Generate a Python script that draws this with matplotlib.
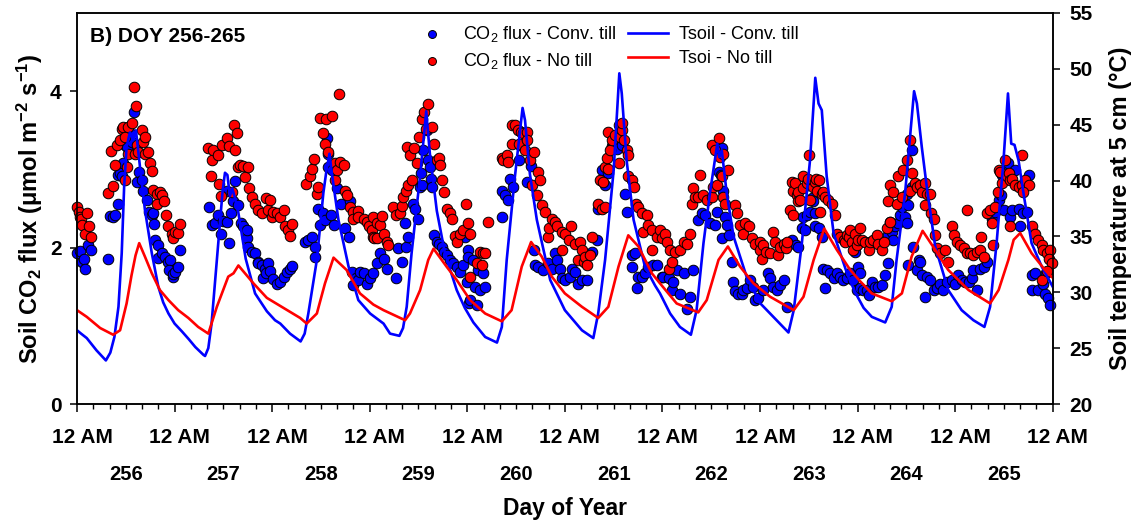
import numpy as np
import matplotlib
matplotlib.use("Agg")
import matplotlib.pyplot as plt
from matplotlib.ticker import MultipleLocator
from matplotlib.transforms import ScaledTranslation, blended_transform_factory

plt.rcParams['font.family'] = ['Liberation Sans', 'DejaVu Sans']
plt.rcParams['mathtext.fontset'] = 'custom'
plt.rcParams['mathtext.rm'] = 'Liberation Sans'
plt.rcParams['mathtext.it'] = 'Liberation Sans:italic'
plt.rcParams['mathtext.bf'] = 'Liberation Sans:bold'

# ---------------------------------------------------------------- data
days = [256, 257, 258, 259, 260, 261, 262, 263, 264, 265]
tick_labels = ['12 AM'] * 11

# soil temperature at 5 cm, (hour since start of DOY 256, degC)
tsoil_conv = [
    (0, 26.6), (1.0, 26.3), (2.4, 25.9), (4.8, 24.8), (7.1, 23.9), (8.2, 24.6), (9.2, 26.0),
    (10.2, 28.7), (11.0, 33.5), (11.6, 39.5), (12.2, 43.0), (13.0, 44.3), (13.8, 43.6),
    (14.5, 44.5), (15.5, 41.2), (16.7, 37.4), (18.4, 33.5), (20.0, 30.5), (21.2, 29.1),
    (22.5, 28.1), (24.0, 27.2), (25.8, 26.5), (27.5, 25.8), (29.1, 25.1), (31.1, 24.4),
    (31.5, 24.3), (32.3, 25.0), (33.1, 27.2),
    (34.8, 34.7), (35.8, 39.0), (36.4, 40.7), (37.0, 40.5), (37.6, 38.6), (38.2, 39.3),
    (38.8, 38.5), (39.7, 37.1), (41.5, 33.0), (43.8, 29.9), (46.7, 28.3), (48.7, 27.5),
    (50.0, 27.2), (52.4, 26.3), (55.0, 25.6), (56.0, 26.3), (56.9, 28.1), (59.0, 32.9),
    (60.6, 38.9), (61.4, 41.0), (62.1, 42.4), (62.7, 40.6), (64.3, 36.5), (66.8, 32.3),
    (69.2, 29.3), (72.1, 28.1), (75.4, 27.2), (77.0, 26.3), (79.3, 26.1), (80.2, 26.8),
    (81.1, 28.7), (82.3, 33.5), (84.4, 40.4), (85.9, 46.2), (86.8, 42.4), (88.5, 37.3),
    (90.5, 33.5), (93.4, 30.2), (95.4, 28.6), (97.5, 27.3), (100.4, 26.0), (103.3, 25.5),
    (104.5, 26.9), (105.7, 32.9), (107.7, 40.3), (109.6, 46.5), (110.2, 45.4), (111.4, 40.6),
    (113.1, 36.5), (116.4, 31.1), (120.0, 28.4), (124.2, 26.6), (127.0, 25.9), (128.2, 28.1),
    (129.9, 32.9), (132.0, 40.9), (133.4, 49.6), (134.0, 47.8), (135.2, 41.8), (136.9, 36.5),
    (139.7, 32.3), (142.2, 30.6), (143.4, 29.9), (145.9, 28.1), (148.3, 26.9), (151.0, 26.2),
    (152.4, 28.4), (154.1, 34.4), (155.7, 38.9), (157.5, 43.3), (158.0, 42.1), (158.6, 42.7),
    (159.8, 38.9), (161.5, 35.0), (164.7, 31.4), (168.1, 29.0), (171.3, 27.8), (175.0, 26.4),
    (176.3, 28.4), (178.3, 34.4), (180.3, 41.8), (181.6, 49.2), (182.4, 46.9), (183.2, 46.3),
    (184.4, 40.4), (186.1, 35.3), (189.4, 31.7), (191.4, 30.0), (193.5, 28.6), (195.5, 27.8),
    (198.8, 27.3), (200.4, 28.7), (201.6, 32.9), (203.7, 38.9), (205.9, 48.0), (206.6, 46.9),
    (207.8, 43.0), (209.0, 39.5), (211.1, 34.1), (214.3, 30.2), (217.6, 28.4), (220.5, 27.5),
    (223.2, 26.9), (224.6, 28.7), (226.2, 34.4), (227.9, 41.8), (229.0, 47.8), (229.8, 43.3),
    (230.6, 43.2), (231.6, 41.8), (232.8, 38.9), (234.8, 34.4), (237.3, 32.3), (240.0, 30.5),
]

tsoil_notill = [
    (0, 28.4), (2.4, 27.8), (5.7, 26.8), (8.9, 26.2), (10.6, 26.6), (12.2, 29.0), (13.4, 31.5),
    (14.4, 33.3), (15.3, 34.4), (16.7, 33.2), (18.4, 31.7), (20.4, 30.2), (22.5, 29.3),
    (24.9, 28.4), (27.4, 27.7), (29.8, 26.9), (32.3, 26.3), (34.4, 28.7), (37.2, 31.4),
    (38.5, 31.7), (39.7, 32.4), (43.4, 30.8), (46.7, 29.5), (50.8, 28.6), (54.9, 27.7),
    (56.5, 27.2), (59.0, 28.1), (61.0, 30.8), (63.1, 33.1), (66.3, 32.0), (69.6, 29.9),
    (72.9, 28.9), (75.4, 28.4), (80.7, 27.5), (81.9, 28.1), (84.4, 30.2), (86.4, 32.9),
    (87.7, 33.9), (90.9, 32.3), (93.4, 31.1), (96.7, 29.3), (100.4, 28.1), (104.5, 27.4),
    (106.9, 28.4), (109.4, 32.3), (111.7, 34.5), (114.3, 33.2), (116.8, 31.4), (120.0, 29.9),
    (124.2, 28.7), (128.2, 27.7), (130.7, 28.7), (133.2, 32.3), (135.6, 35.1), (138.1, 34.1),
    (141.4, 31.7), (143.4, 30.8), (147.5, 29.0), (152.8, 28.2), (154.9, 29.3), (157.8, 32.9),
    (160.1, 34.1), (163.1, 32.3), (166.4, 30.8), (170.5, 29.6), (176.3, 28.4), (178.7, 29.6),
    (181.2, 32.9), (183.8, 35.7), (186.9, 33.8), (190.2, 32.0), (192.6, 31.0), (195.5, 29.9),
    (200.4, 29.2), (202.9, 29.9), (205.3, 33.2), (208.0, 35.5), (211.1, 33.8), (214.3, 32.0),
    (219.3, 30.2), (224.6, 29.0), (226.7, 30.2), (229.1, 32.9), (230.4, 34.7), (232.0, 35.3),
    (234.8, 33.5), (238.1, 32.0), (240.0, 31.3),
]

# soil CO2 flux, (hour since start of DOY 256, umol m-2 s-1)
flux_conv = [
    (0.1, 1.93), (0.7, 1.96), (1.3, 1.81), (1.7, 1.85), (2.0, 1.72), (2.8, 2.03), (3.4, 1.97),
    (7.7, 1.85), (8.1, 2.40), (8.9, 2.39), (9.3, 2.42), (10.0, 2.56), (10.2, 2.93), (10.6, 2.95),
    (11.0, 2.91), (11.4, 3.08), (11.8, 3.31), (12.4, 3.29), (12.9, 3.44), (13.0, 3.46),
    (13.5, 3.35), (13.9, 3.74), (14.7, 2.84), (15.3, 2.97), (15.9, 2.86), (16.3, 2.73),
    (17.1, 2.61), (17.7, 2.46), (18.4, 2.42), (18.8, 2.44), (19.0, 2.30), (19.2, 2.10),
    (20.0, 2.03), (19.9, 1.87), (21.0, 1.93), (21.6, 1.88), (22.3, 1.81), (22.9, 1.84),
    (22.7, 1.71), (23.5, 1.63), (23.7, 1.66), (24.1, 1.69), (24.9, 1.75), (25.3, 1.97),
    (32.5, 2.52), (33.1, 2.29), (33.9, 2.31), (34.6, 2.42), (35.4, 2.18), (36.0, 2.34),
    (36.8, 2.33), (36.8, 2.73), (37.4, 2.06), (37.9, 2.44), (38.4, 2.59), (38.9, 2.85),
    (39.7, 2.54), (40.3, 2.31), (40.9, 2.27), (41.7, 2.12), (41.9, 2.22), (42.1, 2.01),
    (43.0, 1.95), (43.8, 1.93), (44.5, 1.82), (44.6, 1.80), (45.4, 1.78), (45.8, 1.61),
    (46.2, 1.73), (46.5, 1.67), (46.9, 1.80), (47.5, 1.70), (48.3, 1.60), (49.1, 1.54),
    (49.9, 1.56), (50.8, 1.63), (51.6, 1.69), (52.4, 1.72), (52.8, 1.76),
    (56.1, 2.07), (56.9, 2.10), (57.7, 2.14), (58.5, 2.01), (58.5, 1.88), (59.4, 2.50),
    (59.8, 2.29), (60.6, 2.44), (61.0, 2.35), (61.4, 3.40), (61.8, 3.03), (61.8, 3.20),
    (62.4, 2.42), (62.7, 2.99), (63.1, 2.29), (63.9, 2.76), (64.9, 2.56), (65.9, 2.25),
    (66.8, 2.14), (67.2, 2.59), (67.6, 1.69), (68.0, 1.52), (68.6, 1.61), (69.2, 1.58),
    (69.6, 1.69), (70.5, 1.67), (71.3, 1.54), (72.1, 1.61), (72.9, 1.67), (73.7, 1.80),
    (74.5, 1.93), (75.4, 1.86), (76.2, 1.73), (78.5, 1.61), (79.0, 1.99), (79.9, 1.82),
    (80.7, 2.31), (80.9, 2.01), (81.5, 2.14),
    (82.6, 2.56), (83.1, 2.50), (84.0, 2.36), (84.4, 2.78), (84.5, 2.95), (84.8, 2.80),
    (85.0, 3.25), (86.0, 3.50), (86.4, 3.12), (86.8, 3.03), (87.0, 2.88), (87.4, 2.78),
    (87.7, 2.16), (88.5, 2.07), (89.1, 2.05), (89.7, 2.01), (90.3, 1.95), (90.9, 1.90),
    (91.8, 1.84), (92.6, 1.80), (93.4, 1.75), (94.2, 1.69), (95.0, 1.78), (95.4, 2.14),
    (95.9, 1.56), (96.3, 1.97), (96.3, 1.88), (96.4, 1.29), (96.7, 1.33), (97.5, 1.84),
    (97.9, 1.50), (98.3, 1.27), (98.7, 1.71), (99.1, 1.46), (99.9, 1.67), (100.4, 1.50),
    (104.5, 2.39), (104.6, 2.73), (105.3, 2.67), (106.0, 2.61), (106.5, 2.88), (107.3, 2.78),
    (108.6, 3.12), (109.0, 3.31), (110.6, 2.84), (111.7, 3.04), (112.3, 1.97), (112.7, 1.78),
    (113.5, 1.75), (114.7, 1.71), (115.8, 1.80), (116.8, 1.73), (117.6, 1.93), (118.0, 1.84),
    (118.8, 1.73), (119.2, 1.61), (120.0, 1.58), (121.3, 1.63), (121.7, 1.73), (122.5, 1.69),
    (123.3, 1.54), (124.1, 1.58), (125.4, 1.58), (126.6, 1.95), (127.8, 2.10),
    (128.2, 2.50), (129.1, 2.99), (129.9, 2.80), (130.7, 2.95), (131.5, 3.30), (131.9, 3.33),
    (132.8, 3.26), (133.0, 3.45), (134.0, 3.31), (134.8, 2.69), (135.4, 2.46), (136.5, 1.90),
    (136.5, 1.75), (137.3, 1.93), (137.7, 1.48), (138.1, 1.63), (138.9, 1.63), (139.7, 1.67),
    (140.5, 1.75), (141.8, 1.78), (142.6, 1.78), (143.8, 1.63), (144.2, 1.63), (145.5, 1.61),
    (146.3, 1.46), (146.7, 1.56), (147.5, 1.71), (148.3, 1.41), (149.2, 1.67), (150.0, 1.22),
    (150.8, 1.37), (151.4, 1.71),
    (152.8, 2.35), (153.7, 2.44), (154.5, 2.42), (155.7, 2.31), (156.9, 2.29), (157.4, 2.46),
    (157.4, 3.29), (157.8, 2.97), (158.4, 2.93), (158.6, 3.27), (158.6, 2.12), (159.0, 2.73),
    (159.4, 2.39), (159.8, 2.29), (160.5, 2.16), (161.0, 1.82), (161.3, 1.56), (161.9, 1.44),
    (162.7, 1.41), (163.5, 1.41), (163.9, 1.46), (164.9, 1.48), (165.6, 1.58), (166.4, 1.50),
    (166.8, 1.33), (167.6, 1.35), (168.8, 1.46), (170.0, 1.67), (170.5, 1.61), (171.3, 1.50),
    (172.1, 1.46), (172.9, 1.52), (173.8, 1.58), (174.6, 1.24),
    (175.8, 2.10), (176.9, 2.03), (177.4, 2.01), (178.3, 2.25), (178.7, 2.39), (179.1, 2.22),
    (179.5, 2.42), (180.3, 2.46), (180.7, 2.63), (181.1, 2.59), (181.6, 2.44), (181.6, 2.27),
    (182.4, 2.25), (183.2, 2.14), (183.6, 1.73), (184.0, 1.48), (184.4, 1.71), (185.2, 1.67),
    (186.1, 1.61), (186.9, 1.67), (187.7, 1.63), (188.5, 1.58), (189.3, 1.61), (190.2, 1.67),
    (191.0, 1.58), (191.4, 1.95), (191.8, 1.46), (192.2, 1.75), (192.6, 1.67), (192.6, 1.48),
    (193.4, 1.46), (194.3, 1.46), (194.7, 1.39), (195.5, 1.56), (196.3, 1.50), (197.1, 1.50),
    (198.0, 1.52), (198.8, 1.65), (199.6, 1.80),
    (199.6, 2.16), (200.0, 2.33), (200.4, 2.20), (200.8, 2.10), (201.2, 2.27), (202.0, 2.31),
    (202.5, 2.42), (202.9, 2.52), (203.7, 2.39), (204.1, 2.31), (204.1, 2.69), (204.5, 2.54),
    (204.5, 1.78), (205.3, 2.78), (205.5, 3.25), (205.7, 2.01), (206.5, 1.71), (207.0, 1.84),
    (207.4, 1.82), (207.8, 1.65), (208.6, 1.37), (209.0, 1.63), (209.8, 1.58), (210.7, 1.46),
    (211.5, 1.48), (212.3, 1.54), (213.1, 1.46), (213.9, 1.56), (215.2, 1.58), (216.0, 1.54),
    (216.8, 1.65), (217.6, 1.58), (218.4, 1.56), (219.3, 1.56), (220.1, 1.61), (220.5, 1.71),
    (221.3, 1.46), (222.1, 1.73), (223.0, 1.75), (223.8, 1.82),
    (225.0, 2.37), (225.8, 2.46), (226.7, 2.61), (227.3, 2.67), (227.5, 2.93), (227.9, 2.48),
    (228.7, 2.99), (229.0, 3.08), (229.5, 2.39), (230.0, 2.48), (230.8, 2.99), (231.6, 2.50),
    (232.0, 2.27), (232.8, 2.44), (233.7, 2.46), (234.1, 2.93), (234.9, 1.65), (234.9, 1.46),
    (235.7, 1.67), (236.5, 1.46), (237.7, 1.54), (238.1, 1.41), (238.3, 1.67), (238.9, 1.35),
    (239.4, 1.27),
]

flux_notill = [
    (0.1, 2.52), (0.5, 2.45), (0.7, 2.39), (1.0, 2.37), (1.2, 2.29), (2.0, 2.18), (2.4, 2.44),
    (3.0, 2.27), (3.4, 2.14),
    (7.7, 2.70), (8.4, 3.24), (8.9, 2.79), (9.3, 3.05), (9.8, 3.31), (10.6, 3.37), (11.0, 3.52),
    (11.4, 3.54), (11.8, 3.42), (11.8, 2.86), (12.2, 3.03), (12.6, 3.54), (12.6, 3.20),
    (13.5, 3.59), (13.9, 4.06), (14.3, 3.20), (14.4, 3.81), (14.7, 3.31), (15.1, 3.22),
    (15.9, 3.51), (16.3, 3.35), (16.7, 3.42), (16.7, 3.20), (17.4, 3.22), (18.0, 3.08),
    (18.4, 2.98), (18.8, 2.74), (19.6, 2.69), (19.6, 2.56), (20.4, 2.71), (21.0, 2.67),
    (21.5, 2.60), (21.9, 2.42), (22.5, 2.27), (23.3, 2.18), (23.5, 2.12), (24.1, 2.20),
    (24.9, 2.19), (25.3, 2.30),
    (32.3, 3.28), (33.0, 2.91), (33.3, 3.12), (33.5, 3.25), (34.6, 3.19), (34.9, 2.81),
    (35.4, 2.66), (35.6, 3.31), (36.8, 3.40), (37.4, 3.30), (38.1, 2.71), (38.5, 3.57),
    (38.9, 3.25), (39.4, 3.47), (39.7, 3.03), (40.1, 3.05), (40.9, 3.04), (41.3, 2.90),
    (42.0, 3.03), (42.3, 2.76), (43.0, 2.65), (43.8, 2.56), (44.6, 2.48), (45.4, 2.44),
    (46.4, 2.64), (47.1, 2.48), (47.9, 2.39),
    (47.5, 2.61), (48.3, 2.46), (49.1, 2.44), (49.9, 2.39), (50.8, 2.48), (51.2, 2.27),
    (52.0, 2.22), (52.4, 2.15), (52.8, 2.30), (56.3, 2.81), (57.2, 2.91), (57.7, 3.01),
    (58.3, 3.13), (59.0, 2.69), (59.4, 2.78), (59.8, 3.66), (60.4, 3.47), (61.0, 3.33),
    (61.3, 3.65), (61.8, 3.22), (62.7, 3.68), (63.5, 3.08), (63.5, 2.86), (63.9, 2.99),
    (64.4, 3.97), (64.7, 3.10), (65.6, 3.05), (65.9, 2.73), (66.5, 2.67), (67.2, 2.52),
    (68.0, 2.46), (68.0, 2.37), (69.0, 2.47), (69.2, 2.39), (70.5, 2.37), (71.3, 2.33),
    (71.9, 2.27), (72.5, 2.22), (72.7, 2.14), (72.9, 2.39), (73.1, 2.12), (73.7, 2.31),
    (73.9, 2.12), (74.5, 2.29), (75.0, 2.40), (75.4, 2.18), (76.2, 2.07), (76.6, 2.03),
    (77.8, 2.52), (78.5, 2.42), (79.5, 2.44), (79.9, 2.53), (80.3, 2.65), (80.9, 2.73),
    (81.1, 3.29), (81.5, 2.80), (81.8, 3.18), (82.3, 2.86), (82.9, 3.27), (83.6, 3.08),
    (84.2, 3.42), (84.8, 3.65), (85.4, 3.74), (85.9, 3.52), (86.4, 3.84), (87.3, 3.54),
    (87.7, 3.33), (88.5, 3.12), (89.1, 3.14), (89.3, 3.05), (89.9, 2.86), (90.3, 2.71),
    (90.9, 2.49), (91.8, 2.44), (92.2, 2.36), (93.0, 2.15), (93.4, 2.07), (94.2, 2.18),
    (95.0, 2.23), (95.7, 2.56),
    (96.3, 2.31), (96.7, 2.18), (96.7, 1.63), (98.3, 1.80), (99.1, 1.95), (99.6, 1.78),
    (99.9, 1.93), (100.4, 1.93), (101.0, 2.33), (104.5, 3.14), (104.9, 3.12), (105.7, 3.18),
    (106.1, 3.10), (106.9, 3.57), (106.9, 3.33), (107.7, 3.57), (108.4, 3.50), (108.6, 3.33),
    (109.2, 3.48), (109.8, 3.46), (110.2, 3.25), (110.6, 3.48), (110.6, 3.37), (111.4, 3.12),
    (111.9, 2.80), (112.4, 3.22), (113.1, 2.67), (113.3, 2.97), (113.9, 2.86), (114.3, 2.54),
    (115.1, 2.46), (115.8, 2.14), (116.0, 2.25), (116.8, 2.37), (117.6, 2.33), (118.0, 2.27),
    (119.2, 2.20), (119.2, 1.97), (120.0, 2.18), (120.9, 2.10), (121.5, 2.27), (122.5, 2.05),
    (123.3, 1.84), (123.7, 2.07), (124.1, 1.97), (124.6, 1.82), (125.0, 1.88), (125.4, 1.78),
    (126.2, 1.90), (126.6, 2.14),
    (128.2, 2.56), (128.7, 2.86), (129.1, 2.50), (129.5, 2.84), (129.9, 2.52), (129.9, 3.03),
    (130.3, 3.15), (130.7, 3.01), (130.7, 3.48), (131.1, 3.25), (131.5, 3.37), (132.4, 3.44),
    (133.3, 3.57), (133.3, 3.08), (133.6, 3.42), (134.0, 3.50), (134.0, 3.59), (134.6, 3.37),
    (135.2, 3.25), (135.5, 3.18), (135.6, 2.91), (136.5, 2.86), (137.1, 2.78), (137.4, 2.56),
    (138.1, 2.52), (138.9, 2.44), (139.3, 2.20), (140.1, 2.42), (140.5, 2.29), (141.4, 1.97),
    (141.5, 2.22), (142.6, 2.14), (143.4, 2.22), (143.8, 2.12), (144.6, 2.18), (145.1, 2.07),
    (145.5, 1.73), (145.9, 1.97), (146.3, 1.82), (147.1, 1.95), (148.3, 1.97), (149.2, 2.07),
    (150.0, 2.05), (150.8, 2.18),
    (151.2, 2.56), (151.6, 2.76), (152.0, 2.65), (152.8, 2.65), (153.3, 2.93), (154.1, 2.67),
    (154.9, 2.61), (156.1, 2.65), (156.1, 3.31), (156.5, 2.78), (156.9, 3.25), (157.4, 2.80),
    (157.8, 3.40), (158.2, 3.16), (158.6, 2.91), (159.0, 2.65), (159.0, 3.20), (159.4, 2.56),
    (160.2, 2.99), (161.9, 2.54), (162.4, 2.44), (163.1, 2.29), (163.9, 2.18), (164.3, 2.31),
    (165.2, 2.27), (166.0, 2.12), (166.8, 2.05), (168.0, 2.07), (168.0, 1.97), (168.4, 1.86),
    (168.8, 2.03), (169.6, 1.95), (170.5, 1.93), (171.3, 2.20), (171.7, 2.07), (172.5, 1.90),
    (172.9, 2.01), (173.8, 2.05), (174.4, 1.99), (174.6, 2.07),
    (175.4, 2.48), (175.8, 2.84), (176.2, 2.42), (176.2, 2.73), (176.5, 2.82), (177.0, 2.67),
    (177.4, 2.71), (177.4, 2.59), (177.8, 2.61), (178.7, 2.91), (178.7, 2.76), (179.5, 2.82),
    (179.9, 2.88), (180.0, 3.18), (180.3, 2.61), (181.1, 2.78), (181.6, 2.84), (181.9, 2.88),
    (182.4, 2.86), (182.0, 2.73), (182.8, 2.46), (183.2, 2.69), (183.6, 2.71), (184.0, 2.65),
    (184.8, 2.61), (185.7, 2.56), (186.5, 2.42), (186.9, 2.18), (187.7, 2.14), (188.6, 2.10),
    (189.0, 2.07), (189.4, 2.16), (189.8, 2.14), (190.2, 2.22), (190.6, 2.07), (191.0, 1.97),
    (191.4, 2.18), (191.8, 2.03), (192.6, 2.25),
    (192.2, 2.10), (193.0, 2.10), (193.8, 2.07), (194.7, 1.97), (195.1, 2.07), (195.9, 2.10),
    (196.7, 2.16), (197.1, 2.05), (198.0, 1.97), (198.4, 2.07), (199.2, 2.25), (200.0, 2.33),
    (199.4, 2.59), (200.0, 2.80), (200.8, 2.71), (201.6, 2.56), (202.0, 2.91), (202.9, 2.65),
    (203.3, 2.99), (204.1, 3.12), (204.9, 3.37), (204.9, 2.73), (205.3, 2.95), (206.1, 2.82),
    (206.5, 2.78), (207.4, 2.80), (207.8, 2.71), (208.6, 2.82), (209.0, 2.69), (209.8, 2.69),
    (208.6, 2.54), (210.0, 2.44), (210.7, 2.37), (211.1, 2.16), (211.5, 1.99), (212.3, 1.93),
    (213.5, 1.97), (214.3, 1.82), (215.2, 2.27), (215.6, 2.16), (216.4, 2.07), (217.2, 2.03),
    (218.1, 1.99), (218.9, 1.93), (219.7, 1.93), (220.5, 1.90), (221.3, 1.95), (222.1, 1.97),
    (223.0, 1.88), (218.9, 2.48), (222.4, 2.14),
    (223.8, 2.44), (224.6, 2.48), (225.0, 2.31), (225.4, 2.03), (225.8, 2.52), (226.5, 2.71),
    (226.7, 2.99), (227.0, 2.97), (227.5, 2.82), (228.3, 3.12), (228.7, 2.91), (229.3, 2.95),
    (229.5, 2.86), (229.5, 2.27), (230.0, 2.88), (230.8, 2.80), (231.6, 2.78), (232.4, 3.18),
    (232.4, 2.80), (233.2, 2.86), (234.1, 2.80), (232.8, 2.71), (234.9, 2.27), (235.7, 2.18),
    (236.5, 2.10), (237.3, 2.03), (237.7, 1.97), (238.5, 1.93), (239.4, 1.97), (239.0, 1.86),
    (239.8, 1.80), (237.3, 1.58), (238.5, 1.70),
]

# ---------------------------------------------------------------- figure
BLUE = '#0000ff'
RED = '#ff0000'

fig = plt.figure(figsize=(11.4, 5.25), dpi=100)
ax = fig.add_axes([77 / 1140, 1 - 404 / 525, (1052.7 - 77) / 1140, (404 - 13) / 525])
ax2 = ax.twinx()

fc_h, fc_v = np.array(flux_conv).T
fn_h, fn_v = np.array(flux_notill).T
tc_h, tc_v = np.array(tsoil_conv).T
tn_h, tn_v = np.array(tsoil_notill).T

sc_ct = ax.scatter(fc_h, fc_v, s=58, c=BLUE, edgecolors='black', linewidths=0.7,
                   clip_on=False, zorder=3, label=r'CO$_2$ flux - Conv. till')
sc_nt = ax.scatter(fn_h, fn_v, s=58, c=RED, edgecolors='black', linewidths=0.7,
                   clip_on=False, zorder=4, label=r'CO$_2$ flux - No till')

ln_ct, = ax2.plot(tc_h, tc_v, color=BLUE, lw=1.9, label='Tsoil - Conv. till')
ln_nt, = ax2.plot(tn_h, tn_v, color=RED, lw=1.9, label='Tsoi - No till')

ax.set_xlim(0, 240)
ax.set_ylim(0, 5)
ax2.set_ylim(20, 55)

ax.xaxis.set_major_locator(MultipleLocator(24))
ax.xaxis.set_minor_locator(MultipleLocator(4))
ax.set_xticks(np.arange(0, 241, 24))
ax.set_xticklabels(tick_labels)
ax.set_yticks([0, 2, 4])
ax2.set_yticks(np.arange(20, 56, 5))

for a in (ax, ax2):
    for sp in a.spines.values():
        sp.set_linewidth(1.1)

ax.tick_params(axis='x', which='major', direction='out', length=6, width=1.1,
               labelsize=15, pad=11)
ax.tick_params(axis='x', which='minor', direction='out', length=3.5, width=1.0)
ax.tick_params(axis='y', direction='out', length=5, width=1.1, labelsize=15, pad=6)
ax2.tick_params(axis='y', direction='out', length=5, width=1.1, labelsize=15, pad=7)

for lbl in ax.get_xticklabels() + ax.get_yticklabels() + ax2.get_yticklabels():
    lbl.set_fontweight('bold')
shift = ScaledTranslation(5 / 100, 0, fig.dpi_scale_trans)
for lbl in ax.get_xticklabels():
    lbl.set_transform(lbl.get_transform() + shift)

ax.set_ylabel(r'Soil CO$_\mathbf{2}$ flux ($\mathbf{\mu}$mol m$^\mathbf{-2}$ s$^\mathbf{-1}$)',
              fontsize=17, fontweight='bold', labelpad=4)
ax2.set_ylabel('Soil temperature at 5 cm (°C)', fontsize=17, fontweight='bold', labelpad=12)

# day numbers centred under each day
tr = blended_transform_factory(ax.transData, fig.transFigure)
for i, d in enumerate(days):
    ax.text(24 * i + 12, 1 - 474.5 / 525, str(d), transform=tr, ha='center', va='center',
            fontsize=14.5, fontweight='bold')
fig.text((77 + 1052.7) / 2 / 1140, 1 - 508 / 525, 'Day of Year', ha='center', va='center',
         fontsize=16.5, fontweight='bold')

ax.text(0.013, 0.926, 'B) DOY 256-265', transform=ax.transAxes, fontsize=15,
        fontweight='bold', va='baseline', ha='left')

leg = ax2.legend([sc_ct, sc_nt, ln_ct, ln_nt],
                 [sc_ct.get_label(), sc_nt.get_label(), ln_ct.get_label(), ln_nt.get_label()],
                 ncol=2, loc='upper left', bbox_to_anchor=(412 / 1140, 1 - 24 / 525),
                 bbox_transform=fig.transFigure, frameon=False, fontsize=13,
                 handlelength=2.2, handletextpad=0.65, columnspacing=0.6,
                 labelspacing=0.38, borderpad=0, borderaxespad=0, markerscale=0.75,
                 scatterpoints=1)

fig.savefig('out.png', dpi=100)
